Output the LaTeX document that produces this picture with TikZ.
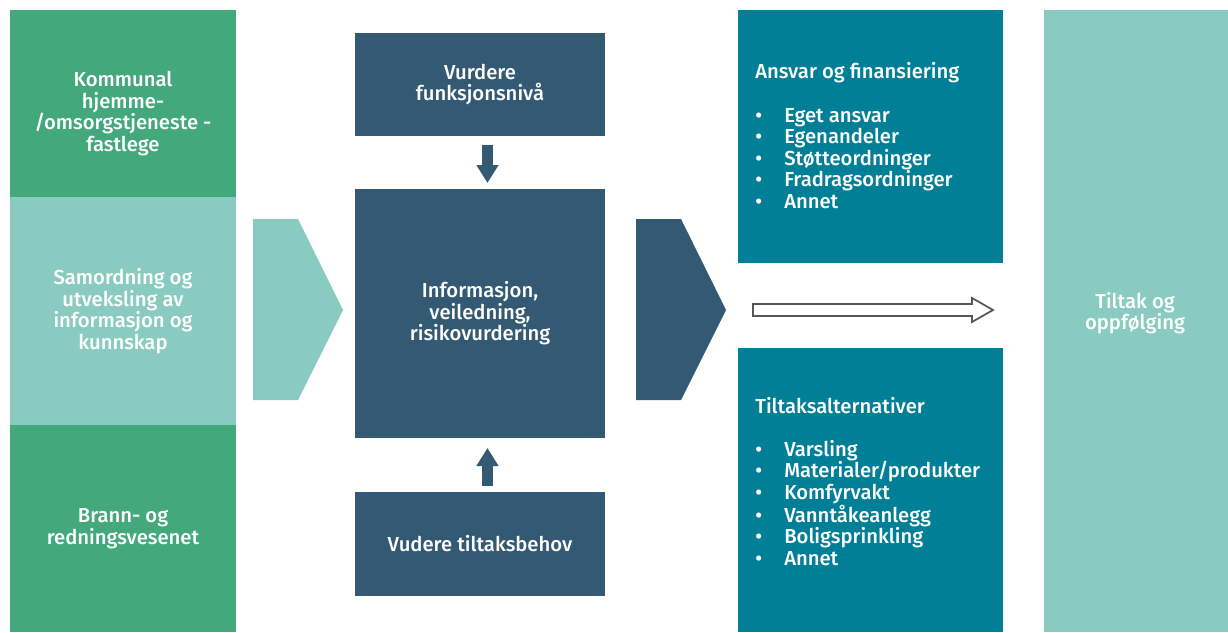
\documentclass[tikz,border=0pt]{standalone}
\usepackage{fontspec}
\setmainfont{Fira Sans}[UprightFont={* Medium}]
\usetikzlibrary{arrows.meta}
\definecolor{cgreen}{HTML}{43A87C}
\definecolor{clight}{HTML}{8ACBC1}
\definecolor{cdark}{HTML}{345A73}
\definecolor{cteal}{HTML}{007F97}
\definecolor{cgray}{HTML}{555555}
\newcommand\itm[1]{\makebox[21.75pt][l]{•}#1}
\begin{document}
\begin{tikzpicture}[x=0.75pt,y=-0.75pt,
  every node/.style={font=\fontsize{15.2}{16.1}\selectfont, text=white, inner sep=0pt},
  box/.style={draw=none, minimum width=#1, outer sep=0pt},
  txt/.style={align=center},
  flowarrow/.style={draw=cdark, fill=cdark, line width=8.25pt, -{Triangle[width=15.75pt,length=13.5pt]}},
  chev/.style={fill=#1}
]
\useasboundingbox (0,0) rectangle (1228,632);
% left column
\node[box=169.5pt, fill=cgreen, minimum height=140.25pt] (k1) at (123,103.5) {};
\node[txt] (k1t) at ([yshift=-7.5pt]k1.center) {Kommunal\\hjemme-\\/omsorgstjeneste -\\fastlege};
\node[box=169.5pt, fill=clight, minimum height=171pt, txt] (k2) at (123,311) {Samordning og\\utveksling av\\informasjon og\\kunnskap};
\node[box=169.5pt, fill=cgreen, minimum height=155.25pt, txt] (k3) at (123,528.5) {Brann- og\\redningsvesenet};
% chevrons
\fill[clight] (253,219) -- (298,219) -- (343,310) -- (298,400) -- (253,400) -- cycle;
\fill[cdark] (636,219) -- (681,219) -- (726,310) -- (681,400) -- (636,400) -- cycle;
% middle column
\node[box=187.5pt, fill=cdark, minimum height=77.25pt, txt] (vf) at (480,84.5) {Vurdere\\funksjonsnivå};
\node[box=187.5pt, fill=cdark, minimum height=186.75pt, txt] (inf) at (480,313.5) {Informasjon,\\veiledning,\\risikovurdering};
\node[box=187.5pt, fill=cdark, minimum height=78pt, txt] (vt) at (480,544) {Vudere tiltaksbehov};
\draw[flowarrow, shorten <=6.75pt, shorten >=4.5pt] ([xshift=5.6pt]vf.south) -- ([xshift=5.6pt]inf.north);
\draw[flowarrow, shorten <=4.5pt, shorten >=7.5pt] ([xshift=5.6pt]vt.north) -- ([xshift=5.6pt]inf.south);
% right boxes
\node[box=198.75pt, fill=cteal, minimum height=189.75pt] (af) at (870.5,136.5) {};
\node[box=198.75pt, fill=cteal, minimum height=213pt] (ta) at (870.5,490) {};
\node[anchor=base west, align=left] (aft) at (755,208) {Ansvar og finansiering\\[16.9pt]
\itm{Eget ansvar}\\ \itm{Egenandeler}\\ \itm{Støtteordninger}\\ \itm{Fradragsordninger}\\ \itm{Annet}};
\node[anchor=base west, align=left] (tat) at (755,565) {Tiltaksalternativer\\[16.1pt]
\itm{Varsling}\\ \itm{Materialer/produkter}\\ \itm{Komfyrvakt}\\ \itm{Vanntåkeanlegg}\\ \itm{Boligsprinkling}\\ \itm{Annet}};
% hollow arrow
\coordinate (ha) at (753,310);
\coordinate (hb) at (993,310);
\draw[cgray, line width=1.3pt, fill=white, line join=miter]
  (753,304) -- (972,304) -- (972,298) -- (hb) -- (972,322) -- (972,316) -- (753,316) -- cycle;
% right column
\node[box=138pt, fill=clight, minimum height=466.5pt] (tf) at (1136,321) {};
\node[txt] (tft) at (1135,313) {Tiltak og\\oppfølging};
\end{tikzpicture}
\end{document}
